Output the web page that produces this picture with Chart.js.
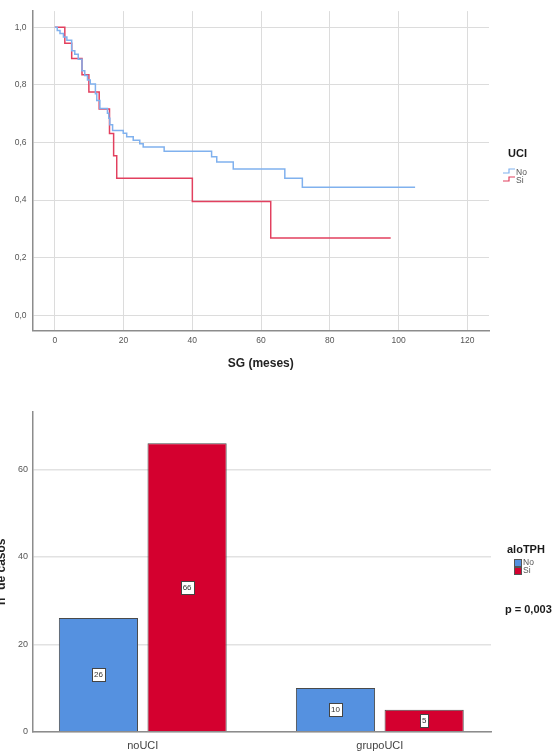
<!DOCTYPE html>
<html>
<head>
<meta charset="utf-8">
<script src="https://cdn.jsdelivr.net/npm/chart.js@4.4.1/dist/chart.umd.min.js"></script>
<style>
  body { margin: 0; background: #fff; font-family: "Liberation Sans", Arial, sans-serif; }
  #wrap { position: relative; width: 554px; height: 752px; overflow: hidden; }
  canvas { position: absolute; left: 0; }
  #km { top: 0; }
  #bars { top: 390px; }
  .ttl { position: absolute; font-weight: bold; font-size: 11px; line-height: 12px; color: #1a1a1a; }
  .item { position: absolute; font-size: 8.5px; line-height: 9px; color: #555; }
  .sq { position: absolute; width: 6px; height: 6px; border: 1px solid #555; }
</style>
</head>
<body>
<div id="wrap">
  <canvas id="km" width="554" height="380"></canvas>
  <canvas id="bars" width="554" height="362"></canvas>

  <!-- legend survival -->
  <div class="ttl" style="left:508px;top:147px">UCI</div>
  <svg style="position:absolute;left:502px;top:166px" width="14" height="18">
    <polyline points="1,7 7,7 7,3 13,3" fill="none" stroke="#80b1ee" stroke-width="1.2"/>
    <polyline points="1,15 7,15 7,11 13,11" fill="none" stroke="#e2405f" stroke-width="1.2"/>
  </svg>
  <div class="item" style="left:516px;top:168px">No</div>
  <div class="item" style="left:516px;top:176px">Si</div>

  <!-- legend bars -->
  <div class="ttl" style="left:507px;top:543px">aloTPH</div>
  <div class="sq" style="left:514px;top:559px;background:#5591e0"></div>
  <div class="sq" style="left:514px;top:567px;background:#d4002f"></div>
  <div class="item" style="left:523px;top:558px">No</div>
  <div class="item" style="left:523px;top:566px">Si</div>
  <div class="ttl" style="left:505px;top:603px">p = 0,003</div>
</div>

<script>
// Kaplan-Meier, SG by UCI
const noTimes = [0, 0.7, 1.5, 2.5, 3.5, 4.9, 5.8, 6.8, 7.9, 8.7, 9.5, 10.3, 11.8, 12.2, 13.1, 15.3, 15.7, 16.0, 16.8, 19.9, 20.9, 22.8, 24.7, 25.7, 31.8, 45.6, 47.1, 51.9, 66.9, 72.0, 104.8];
const noSurv  = [1, 0.989, 0.978, 0.966, 0.955, 0.918, 0.906, 0.889, 0.849, 0.832, 0.817, 0.803, 0.769, 0.746, 0.718, 0.701, 0.684, 0.661, 0.641, 0.632, 0.620, 0.608, 0.595, 0.584, 0.569, 0.550, 0.532, 0.508, 0.476, 0.444, 0.444];
const siTimes = [0, 2.9, 4.9, 7.9, 9.9, 12.9, 15.9, 17.1, 18.0, 40.0, 62.8, 97.7];
const siSurv  = [1, 0.944, 0.891, 0.835, 0.775, 0.716, 0.631, 0.554, 0.476, 0.395, 0.268, 0.268];
const kmXTicks = [0, 20, 40, 60, 80, 100, 120];
const kmYTicks = [0, 0.2, 0.4, 0.6, 0.8, 1.0];

// cases by group
const groups = ['noUCI', 'grupoUCI'];
const aloNo = [26, 10];
const aloSi = [66, 5];
const barYTicks = [0, 20, 40, 60];

const tickFont = { family: '"Liberation Sans", Arial, sans-serif', size: 8.5 };

new Chart(document.getElementById('km'), {
  type: 'line',
  data: {
    datasets: [
      { label: 'No', data: noTimes.map((t, i) => ({ x: t, y: noSurv[i] })), borderColor: '#80b1ee', borderWidth: 1.5, stepped: 'before', pointRadius: 0, fill: false },
      { label: 'Si', data: siTimes.map((t, i) => ({ x: t, y: siSurv[i] })), borderColor: '#e2405f', borderWidth: 1.5, stepped: 'before', pointRadius: 0, fill: false }
    ]
  },
  options: {
    responsive: false,
    animation: false,
    devicePixelRatio: 1,
    layout: { padding: { top: 6, right: 65, left: 0, bottom: 0 } },
    plugins: { legend: { display: false }, tooltip: { enabled: false } },
    scales: {
      x: {
        type: 'linear', min: -6.5, max: 126.3,
        afterBuildTicks: s => { s.ticks = kmXTicks.map(v => ({ value: v })); },
        afterFit: s => { s.height = 49.5; },
        grid: { color: '#dcdcdc', lineWidth: 1, drawTicks: false },
        border: { color: '#8c8c8c', width: 1.5 },
        ticks: { padding: 5, color: '#555', font: tickFont, maxRotation: 0 },
        title: { display: true, text: 'SG (meses)', color: '#222', font: { size: 12, weight: 'bold' }, padding: { top: 0, bottom: 9.5 } }
      },
      y: {
        min: -0.053, max: 1.056,
        afterBuildTicks: s => { s.ticks = kmYTicks.map(v => ({ value: v })); },
        afterFit: s => { s.width = 32.5; },
        grid: { color: '#dcdcdc', lineWidth: 1, drawTicks: false },
        border: { color: '#8c8c8c', width: 1.5 },
        ticks: { padding: 6, color: '#555', font: tickFont, callback: v => v.toFixed(1).replace('.', ',') }
      }
    }
  }
});

// white boxes with the count in the middle of each bar
const valueBoxes = {
  id: 'valueBoxes',
  afterDatasetsDraw(chart) {
    const ctx = chart.ctx;
    ctx.save();
    ctx.font = '8px "Liberation Sans", Arial, sans-serif';
    ctx.textAlign = 'center';
    ctx.textBaseline = 'middle';
    chart.data.datasets.forEach((ds, i) => {
      chart.getDatasetMeta(i).data.forEach((bar, j) => {
        const label = String(ds.data[j].y);
        const cy = (bar.y + bar.base) / 2;
        const w = Math.round(ctx.measureText(label).width + 4);
        const x0 = Math.round(bar.x - w / 2) + 0.5, y0 = Math.round(cy - 6.5) + 0.5;
        ctx.fillStyle = '#fff';
        ctx.fillRect(x0, y0, w, 13);
        ctx.strokeStyle = '#444';
        ctx.lineWidth = 1;
        ctx.strokeRect(x0, y0, w, 13);
        ctx.fillStyle = '#333';
        ctx.fillText(label, bar.x, cy + 0.5);
      });
    });
    ctx.restore();
  }
};

new Chart(document.getElementById('bars'), {
  type: 'bar',
  data: {
    datasets: [
      { label: 'No', data: aloNo.map((v, i) => ({ x: i, y: v })), backgroundColor: '#5591e0', borderColor: '#4a4a4a', borderWidth: 1 },
      { label: 'Si', data: aloSi.map((v, i) => ({ x: i, y: v })), backgroundColor: '#d4002f', borderColor: '#4a4a4a', borderWidth: 1 }
    ]
  },
  options: {
    responsive: false,
    animation: false,
    devicePixelRatio: 1,
    categoryPercentage: 0.748,
    barPercentage: 0.893,
    layout: { padding: { top: 21.7, right: 63, left: 0, bottom: 0 } },
    plugins: { legend: { display: false }, tooltip: { enabled: false } },
    scales: {
      x: {
        type: 'linear', min: -0.463, max: 1.469, offset: false,
        afterBuildTicks: s => { s.ticks = groups.map((g, i) => ({ value: i })); },
        afterFit: s => { s.height = 20.3; },
        grid: { display: false },
        border: { color: '#8c8c8c', width: 1.5 },
        ticks: { padding: 0, color: '#444', font: { family: tickFont.family, size: 11 }, maxRotation: 0, callback: v => groups[v] }
      },
      y: {
        min: 0, max: 73.2,
        afterBuildTicks: s => { s.ticks = barYTicks.map(v => ({ value: v })); },
        afterFit: s => { s.width = 33; },
        grid: { color: '#e2e2e2', lineWidth: 1.5, drawTicks: false },
        border: { color: '#8c8c8c', width: 1.5 },
        ticks: { padding: 5, color: '#555', font: { family: tickFont.family, size: 9 } },
        title: { display: true, text: 'nº de casos', color: '#222', font: { size: 12, weight: 'bold', lineHeight: 0.22 }, padding: 0 }
      }
    }
  },
  plugins: [valueBoxes]
});
</script>
</body>
</html>
